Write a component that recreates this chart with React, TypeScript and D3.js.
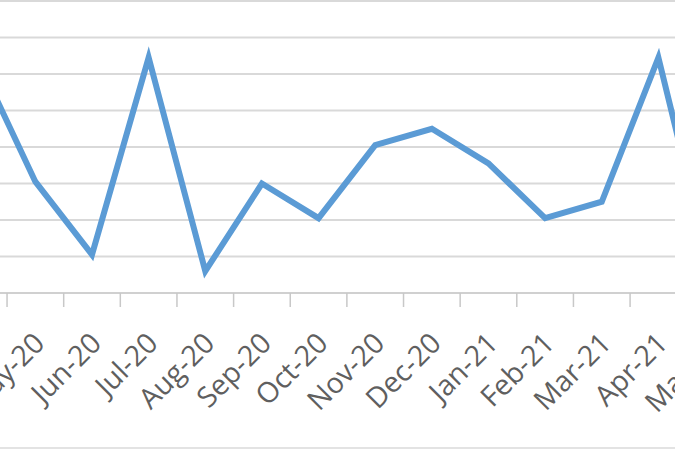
import React from 'react'
import * as d3 from 'd3'

const months = [
  'Apr-20', 'May-20', 'Jun-20', 'Jul-20', 'Aug-20', 'Sep-20', 'Oct-20',
  'Nov-20', 'Dec-20', 'Jan-21', 'Feb-21', 'Mar-21', 'Apr-21', 'May-21',
]
const values = [6.35, 3.05, 1.05, 6.45, 0.6, 3.0, 2.05, 4.05, 4.5, 3.55, 2.05, 2.5, 6.45, 0.1]
const yTicks = [0, 1, 2, 3, 4, 5, 6, 7, 8]

const width = 675
const height = 450
const axisY = 293
const topY = 1
const bandLeft = -49.6
const bandStep = 56.64

export default function App() {
  const x = d3
    .scaleBand()
    .domain(months)
    .range([bandLeft, bandLeft + bandStep * months.length])
    .paddingInner(0)
  const y = d3.scaleLinear().domain([0, 8]).range([axisY, topY])

  const line = d3
    .line<number>()
    .x((_, i) => (x(months[i]) as number) + x.bandwidth() / 2)
    .y(d => y(d))

  const bounds = months.map(m => x(m) as number).concat([(x(months[months.length - 1]) as number) + x.bandwidth()])

  return (
    <svg
      width={width}
      height={height}
      style={{ position: 'absolute', left: 0, top: 0, background: '#fff' }}
    >
      {/* gridlines */}
      {yTicks.slice(1).map(t => (
        <line key={t} x1={0} x2={width} y1={y(t)} y2={y(t)} stroke="#d9d9d9" strokeWidth={2} />
      ))}
      {/* category axis */}
      <line x1={0} x2={width} y1={axisY} y2={axisY} stroke="#d0d0d0" strokeWidth={2} />
      {bounds.map((b, i) => (
        <line key={i} x1={b} x2={b} y1={axisY} y2={axisY + 14} stroke="#c8c8c8" strokeWidth={1.5} />
      ))}
      {months.map(m => {
        const cx = (x(m) as number) + x.bandwidth() / 2
        return (
          <text
            key={m}
            transform={`translate(${cx + 11}, 345) rotate(-45)`}
            textAnchor="end"
            fontFamily="'Open Sans', sans-serif"
            fontSize={28.5}
            fill="#5f5f5f"
          >
            {m}
          </text>
        )
      })}
      <path d={line(values) || ''} fill="none" stroke="#5b9bd5" strokeWidth={6} strokeLinejoin="miter" />
      {/* outer frame bottom */}
      <line x1={0} x2={width} y1={448} y2={448} stroke="#e3e3e3" strokeWidth={2} />
    </svg>
  )
}
